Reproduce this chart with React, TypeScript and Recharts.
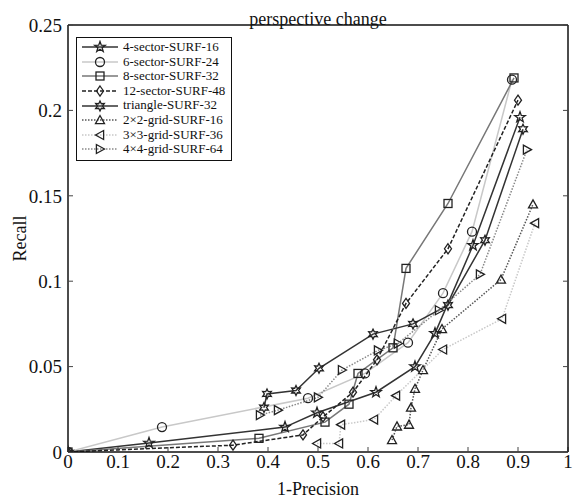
import React from 'react';
import { LineChart, Line, XAxis, YAxis, Label } from 'recharts';

// values, as [1-precision, recall]
const fourSector: number[][] = [[0, 0], [0.162, 0.0053], [0.434, 0.0146], [0.498, 0.023], [0.616, 0.035], [0.694, 0.05], [0.734, 0.0695], [0.81, 0.121], [0.904, 0.196]];
const sixSector: number[][] = [[0, 0], [0.188, 0.0146], [0.48, 0.0315], [0.594, 0.046], [0.68, 0.064], [0.75, 0.093], [0.808, 0.129], [0.888, 0.218]];
const eightSector: number[][] = [[0, 0], [0.382, 0.008], [0.514, 0.0175], [0.562, 0.028], [0.58, 0.046], [0.65, 0.061], [0.676, 0.1075], [0.76, 0.1455], [0.892, 0.219]];
const twelveSector: number[][] = [[0, 0], [0.33, 0.004], [0.47, 0.01], [0.51, 0.0205], [0.57, 0.035], [0.618, 0.054], [0.676, 0.087], [0.76, 0.119], [0.9, 0.206]];
const triangleSurf: number[][] = [[0.392, 0.026], [0.398, 0.034], [0.456, 0.036], [0.502, 0.049], [0.61, 0.069], [0.69, 0.075], [0.76, 0.086], [0.834, 0.124], [0.91, 0.189]];
const grid2: number[][] = [[0.648, 0.007], [0.658, 0.015], [0.682, 0.016], [0.686, 0.026], [0.694, 0.037], [0.71, 0.048], [0.748, 0.072], [0.866, 0.101], [0.93, 0.145]];
const grid3: number[][] = [[0.498, 0.005], [0.542, 0.005], [0.546, 0.016], [0.612, 0.019], [0.656, 0.033], [0.75, 0.06], [0.868, 0.078], [0.934, 0.134]];
const grid4: number[][] = [[0.384, 0.0216], [0.42, 0.0245], [0.5, 0.032], [0.548, 0.048], [0.62, 0.0595], [0.66, 0.0635], [0.742, 0.083], [0.824, 0.104], [0.918, 0.177]];

const xTicks = [0, 0.1, 0.2, 0.3, 0.4, 0.5, 0.6, 0.7, 0.8, 0.9, 1];
const yTicks = [0, 0.05, 0.1, 0.15, 0.2, 0.25];

const series = [
  { name: '4-sector-SURF-16', data: fourSector, color: '#333', dash: undefined, marker: 'star' },
  { name: '6-sector-SURF-24', data: sixSector, color: '#c8c8c8', dash: undefined, marker: 'circle' },
  { name: '8-sector-SURF-32', data: eightSector, color: '#777', dash: undefined, marker: 'square' },
  { name: '12-sector-SURF-48', data: twelveSector, color: '#222', dash: '4 2', marker: 'diamond' },
  { name: 'triangle-SURF-32', data: triangleSurf, color: '#333', dash: undefined, marker: 'hexagram' },
  { name: '2\u00d72-grid-SURF-16', data: grid2, color: '#555', dash: '1.5 1.5', marker: 'up' },
  { name: '3\u00d73-grid-SURF-36', data: grid3, color: '#c8c8c8', dash: '1.5 1.5', marker: 'left' },
  { name: '4\u00d74-grid-SURF-64', data: grid4, color: '#888', dash: '1.5 1.5', marker: 'right' },
];

const FONT = '"Liberation Serif", "DejaVu Serif", serif';

function starPoints(cx: number, cy: number, n: number, ro: number, ri: number) {
  const pts: string[] = [];
  for (let i = 0; i < n * 2; i++) {
    const r = i % 2 === 0 ? ro : ri;
    const a = -Math.PI / 2 + (i * Math.PI) / n;
    pts.push(`${cx + r * Math.cos(a)},${cy + r * Math.sin(a)}`);
  }
  return pts.join(' ');
}

const Marker = ({ cx, cy, type }: { cx: number; cy: number; type: string }) => {
  const s = 4.5;
  const common = { fill: 'white', fillOpacity: 0, stroke: '#222', strokeWidth: 1.3 };
  if (cx == null || cy == null) return null;
  switch (type) {
    case 'circle':
      return <circle cx={cx} cy={cy} r={s} {...common} />;
    case 'square':
      return <rect x={cx - s + 0.5} y={cy - s + 0.5} width={2 * s - 1} height={2 * s - 1} {...common} />;
    case 'diamond':
      return <polygon points={`${cx},${cy - s - 0.5} ${cx + s - 1},${cy} ${cx},${cy + s + 0.5} ${cx - s + 1},${cy}`} {...common} />;
    case 'star':
      return <polygon points={starPoints(cx, cy, 5, s + 1, 2.2)} {...common} />;
    case 'hexagram':
      return <polygon points={starPoints(cx, cy, 6, s + 0.5, 2.6)} {...common} />;
    case 'up':
      return <polygon points={`${cx},${cy - s} ${cx + s},${cy + s * 0.8} ${cx - s},${cy + s * 0.8}`} {...common} />;
    case 'left':
      return <polygon points={`${cx - s},${cy} ${cx + s * 0.8},${cy - s} ${cx + s * 0.8},${cy + s}`} {...common} />;
    case 'right':
      return <polygon points={`${cx + s},${cy} ${cx - s * 0.8},${cy - s} ${cx - s * 0.8},${cy + s}`} {...common} />;
    default:
      return null;
  }
};

const LegendBox = () => (
  <div style={{ position: 'absolute', left: 76, top: 37, border: '1.5px solid #111', background: 'white', padding: '2px 6px 3px 3px', fontFamily: FONT, fontSize: 13, lineHeight: '14.6px' }}>
    {series.map((s) => (
      <div key={s.name} style={{ display: 'flex', alignItems: 'center', whiteSpace: 'nowrap' }}>
        <svg width={40} height={14} style={{ marginRight: 3 }}>
          <line x1={2} y1={7} x2={38} y2={7} stroke={s.color} strokeWidth={1.5} strokeDasharray={s.dash} />
          <Marker cx={20} cy={7} type={s.marker} />
        </svg>
        <span style={{ color: '#111' }}>{s.name}</span>
      </div>
    ))}
  </div>
);

const emptyTick = () => <g />;

export default function App() {
  return (
    <div style={{ position: 'relative', width: 581, height: 500, margin: '-8px 0 0 -8px' }}>
      <LineChart width={581} height={500} margin={{ top: 24, right: 12, bottom: 0, left: 0 }} style={{ fontFamily: FONT }}>
        <XAxis
          type="number"
          dataKey="0"
          domain={[0, 1]}
          ticks={xTicks}
          allowDataOverflow
          height={48}
          tickSize={-5}
          tickMargin={8}
          tickFormatter={(v) => String(v)}
          tick={{ fill: '#111', fontSize: 19, fontFamily: FONT }}
          axisLine={{ stroke: '#111', strokeWidth: 1.5 }}
          tickLine={{ stroke: '#444' }}
        >
          <Label value="1-Precision" position="insideBottom" offset={5} style={{ fontSize: 18, fill: '#111', fontFamily: FONT }} />
        </XAxis>
        <XAxis
          xAxisId="t"
          orientation="top"
          type="number"
          domain={[0, 1]}
          ticks={xTicks}
          allowDataOverflow
          height={1}
          tickSize={-5}
          tick={emptyTick}
          axisLine={{ stroke: '#111', strokeWidth: 1.5 }}
          tickLine={{ stroke: '#444' }}
        >
          <Label value="perspective change" position="top" offset={-1} style={{ fontSize: 18, fill: '#111', fontFamily: FONT }} />
        </XAxis>
        <YAxis
          type="number"
          domain={[0, 0.25]}
          ticks={yTicks}
          allowDataOverflow
          width={68}
          tickSize={-5}
          tickMargin={11}
          tick={{ fill: '#111', fontSize: 19, fontFamily: FONT }}
          axisLine={{ stroke: '#111', strokeWidth: 1.5 }}
          tickLine={{ stroke: '#444' }}
        >
          <Label value="Recall" angle={-90} position="insideLeft" offset={20} style={{ fontSize: 18, fill: '#111', fontFamily: FONT, textAnchor: 'middle' }} />
        </YAxis>
        <YAxis
          yAxisId="r"
          orientation="right"
          type="number"
          domain={[0, 0.25]}
          ticks={yTicks}
          allowDataOverflow
          width={1}
          tickSize={-5}
          tick={emptyTick}
          axisLine={{ stroke: '#111', strokeWidth: 1.5 }}
          tickLine={{ stroke: '#444' }}
        />
        {series.map((s) => (
          <Line
            key={s.name}
            data={s.data}
            dataKey="1"
            name={s.name}
            type="linear"
            stroke={s.color}
            strokeWidth={1.5}
            strokeDasharray={s.dash}
            dot={(p: any) => <Marker key={`${s.name}-${p.index}`} cx={p.cx} cy={p.cy} type={s.marker} />}
            activeDot={false}
            isAnimationActive={false}
          />
        ))}
      </LineChart>
      <LegendBox />
    </div>
  );
}
